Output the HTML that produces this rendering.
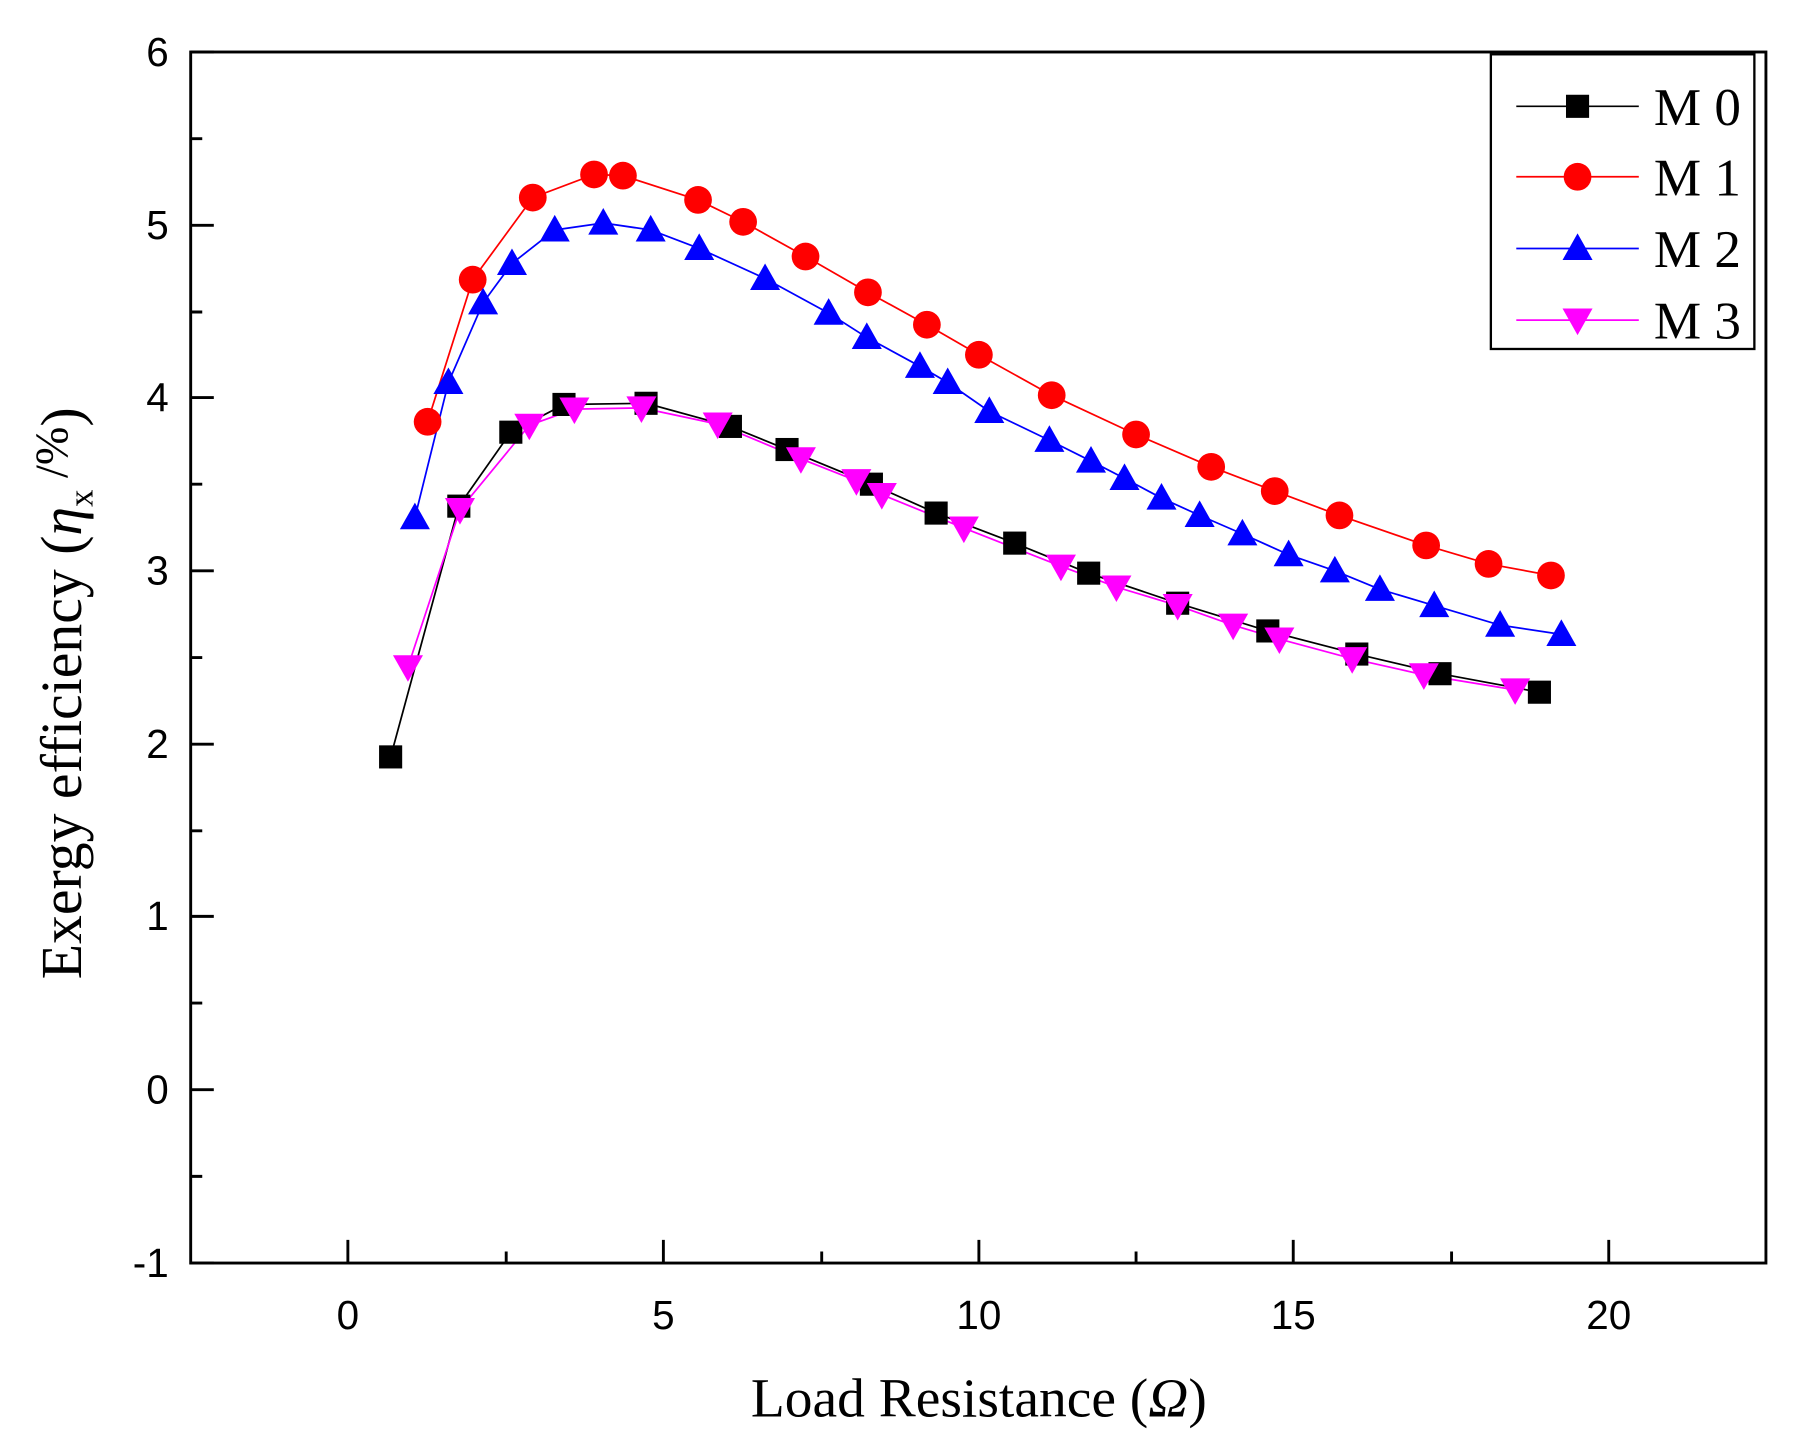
<!DOCTYPE html>
<html><head><meta charset="utf-8"><style>html,body{margin:0;padding:0;background:#fff}svg{display:block}</style></head>
<body>
<svg width="1811" height="1441" viewBox="0 0 1567 1247" preserveAspectRatio="none" xmlns="http://www.w3.org/2000/svg">
<rect x="0" y="0" width="1567" height="1247" fill="#fff"/>
<defs>
<rect id="sq" x="-10" y="-10" width="20" height="20" fill="#000"/>
<circle id="ci" r="12" fill="#ff0000"/>
<polygon id="tu" points="0,-13 13,10 -13,10" fill="#0000ff"/>
<polygon id="td" points="0,13 13,-10 -13,-10" fill="#ff00ff"/>
</defs>
<g stroke="#000" stroke-width="2.5" fill="none">
<rect x="165" y="45" width="1363" height="1048"/>
<path d="M165,45h20M165,195h20M165,344h20M165,494h20M165,644h20M165,793h20M165,943h20M165,1093h20
M165,120h10M165,270h10M165,419h10M165,569h10M165,719h10M165,868h10M165,1018h10
M301,1093v-20M574,1093v-20M847,1093v-20M1119,1093v-20M1392,1093v-20
M438,1093v-10M711,1093v-10M983,1093v-10M1256,1093v-10"/>
</g>
<g font-family="Liberation Sans, sans-serif" font-size="35" text-anchor="end">
<text x="146" y="57">6</text><text x="146" y="207">5</text><text x="146" y="356">4</text><text x="146" y="506">3</text><text x="146" y="656">2</text><text x="146" y="805">1</text><text x="146" y="955">0</text><text x="146" y="1105">-1</text>
</g>
<g font-family="Liberation Sans, sans-serif" font-size="35" text-anchor="middle">
<text x="301" y="1150">0</text><text x="574" y="1150">5</text><text x="847" y="1150">10</text><text x="1119" y="1150">15</text><text x="1392" y="1150">20</text>
</g>
<text x="847" y="1226" font-family="Liberation Serif, serif" font-size="48" text-anchor="middle">Load Resistance (<tspan font-style="italic">Ω</tspan>)</text>
<text transform="translate(70,600) rotate(-90)" font-family="Liberation Serif, serif" font-size="50" text-anchor="middle">Exergy efficiency (<tspan font-style="italic">η</tspan><tspan font-size="30" dy="10">x</tspan><tspan dy="-22" font-size="40"> /%</tspan><tspan dy="12">)</tspan></text>

<polyline fill="none" stroke="#000" stroke-width="1.5" points="338,655 397,438 442,374 488,350 559,349 632,369 681,389 754,419 810,444 878,470 942,496 1019,522 1097,546 1174,566 1246,583 1332,599"/>
<polyline fill="none" stroke="#ff0000" stroke-width="1.5" points="370,365 409,242 461,171 514,151 539,152 604,173 643,192 697,222 751,253 802,281 847,307 910,342 983,376 1048,404 1103,425 1159,446 1234,472 1288,488 1342,498"/>
<polyline fill="none" stroke="#0000ff" stroke-width="1.5" points="359,448 388,331 418,262 443,228 480,199 522,193 563,199 605,215 662,241 717,271 750,292 796,317 820,331 856,356 908,381 944,399 973,414 1005,431 1038,446 1075,462 1115,480 1155,494 1194,510 1241,524 1298,541 1351,549"/>
<polyline fill="none" stroke="#ff00ff" stroke-width="1.5" points="353,577 398,441 458,368 497,354 555,353 621,367 693,397 741,416 763,428 834,457 918,490 966,508 1019,524 1067,541 1107,553 1170,570 1232,584 1311,597"/>

<g>
<use href="#sq" x="338" y="655"/><use href="#sq" x="397" y="438"/><use href="#sq" x="442" y="374"/><use href="#sq" x="488" y="350"/><use href="#sq" x="559" y="349"/><use href="#sq" x="632" y="369"/><use href="#sq" x="681" y="389"/><use href="#sq" x="754" y="419"/><use href="#sq" x="810" y="444"/><use href="#sq" x="878" y="470"/><use href="#sq" x="942" y="496"/><use href="#sq" x="1019" y="522"/><use href="#sq" x="1097" y="546"/><use href="#sq" x="1174" y="566"/><use href="#sq" x="1246" y="583"/><use href="#sq" x="1332" y="599"/>
</g>
<g>
<use href="#ci" x="370" y="365"/><use href="#ci" x="409" y="242"/><use href="#ci" x="461" y="171"/><use href="#ci" x="514" y="151"/><use href="#ci" x="539" y="152"/><use href="#ci" x="604" y="173"/><use href="#ci" x="643" y="192"/><use href="#ci" x="697" y="222"/><use href="#ci" x="751" y="253"/><use href="#ci" x="802" y="281"/><use href="#ci" x="847" y="307"/><use href="#ci" x="910" y="342"/><use href="#ci" x="983" y="376"/><use href="#ci" x="1048" y="404"/><use href="#ci" x="1103" y="425"/><use href="#ci" x="1159" y="446"/><use href="#ci" x="1234" y="472"/><use href="#ci" x="1288" y="488"/><use href="#ci" x="1342" y="498"/>
</g>
<g>
<use href="#tu" x="359" y="448"/><use href="#tu" x="388" y="331"/><use href="#tu" x="418" y="262"/><use href="#tu" x="443" y="228"/><use href="#tu" x="480" y="199"/><use href="#tu" x="522" y="193"/><use href="#tu" x="563" y="199"/><use href="#tu" x="605" y="215"/><use href="#tu" x="662" y="241"/><use href="#tu" x="717" y="271"/><use href="#tu" x="750" y="292"/><use href="#tu" x="796" y="317"/><use href="#tu" x="820" y="331"/><use href="#tu" x="856" y="356"/><use href="#tu" x="908" y="381"/><use href="#tu" x="944" y="399"/><use href="#tu" x="973" y="414"/><use href="#tu" x="1005" y="431"/><use href="#tu" x="1038" y="446"/><use href="#tu" x="1075" y="462"/><use href="#tu" x="1115" y="480"/><use href="#tu" x="1155" y="494"/><use href="#tu" x="1194" y="510"/><use href="#tu" x="1241" y="524"/><use href="#tu" x="1298" y="541"/><use href="#tu" x="1351" y="549"/>
</g>
<g>
<use href="#td" x="353" y="577"/><use href="#td" x="398" y="441"/><use href="#td" x="458" y="368"/><use href="#td" x="497" y="354"/><use href="#td" x="555" y="353"/><use href="#td" x="621" y="367"/><use href="#td" x="693" y="397"/><use href="#td" x="741" y="416"/><use href="#td" x="763" y="428"/><use href="#td" x="834" y="457"/><use href="#td" x="918" y="490"/><use href="#td" x="966" y="508"/><use href="#td" x="1019" y="524"/><use href="#td" x="1067" y="541"/><use href="#td" x="1107" y="553"/><use href="#td" x="1170" y="570"/><use href="#td" x="1232" y="584"/><use href="#td" x="1311" y="597"/>
</g>

<rect x="1290" y="47" width="228" height="255" fill="#fff" stroke="#000" stroke-width="2"/>
<g stroke-width="1.5">
<line x1="1312" y1="92" x2="1418" y2="92" stroke="#000"/><use href="#sq" x="1365" y="92"/>
<line x1="1312" y1="153" x2="1418" y2="153" stroke="#ff0000"/><use href="#ci" x="1365" y="153"/>
<line x1="1312" y1="215" x2="1418" y2="215" stroke="#0000ff"/><use href="#tu" x="1365" y="215"/>
<line x1="1312" y1="277" x2="1418" y2="277" stroke="#ff00ff"/><use href="#td" x="1365" y="277"/>
</g>
<g font-family="Liberation Serif, serif" font-size="46">
<text x="1431" y="108">M 0</text><text x="1431" y="169">M 1</text><text x="1431" y="231">M 2</text><text x="1431" y="293">M 3</text>
</g>
</svg>
</body></html>
